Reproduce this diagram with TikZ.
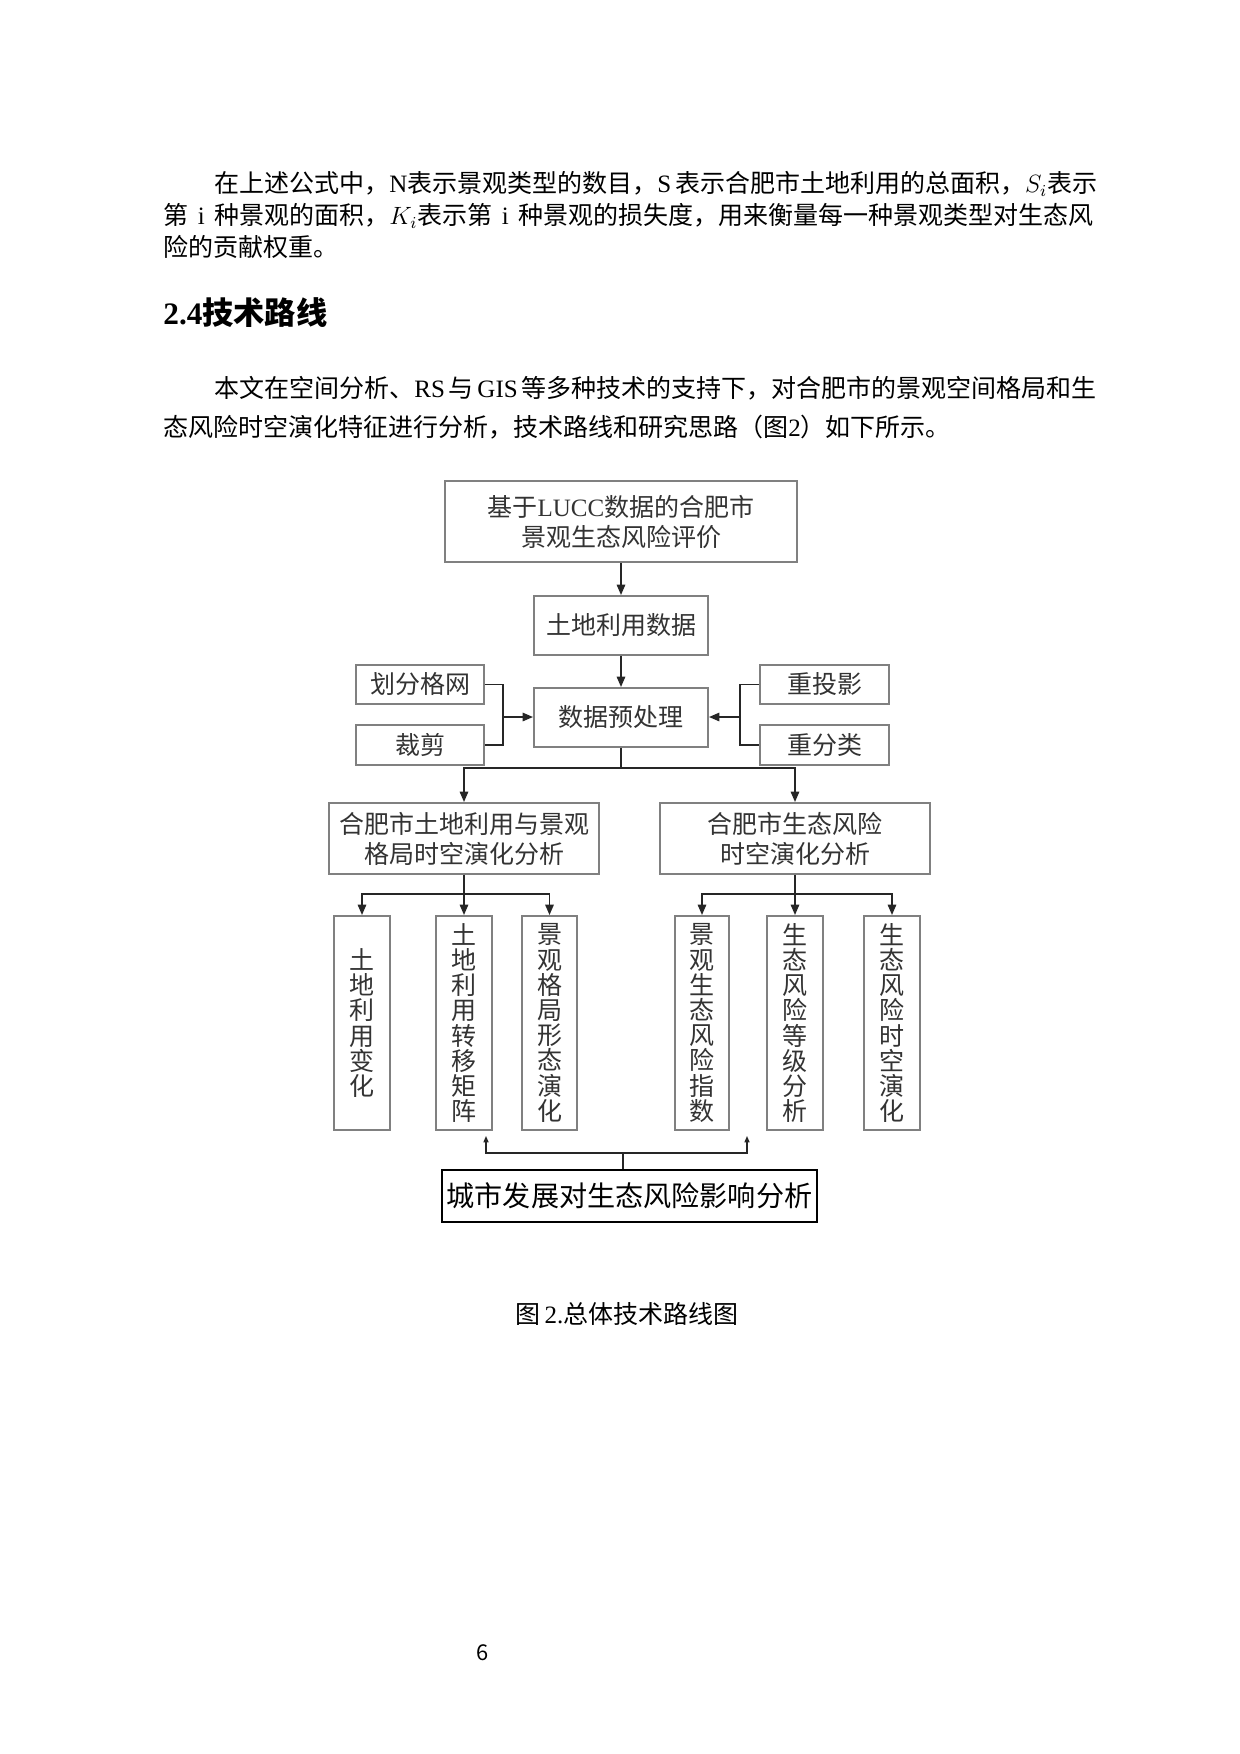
\documentclass[tikz,border=0pt]{standalone}
\usepackage{fontspec}
\setmainfont{Noto Sans CJK SC}
\newfontfamily\lat{Liberation Serif}
\usetikzlibrary{arrows.meta,shadows}
\XeTeXlinebreaklocale "zh"
\XeTeXlinebreakskip=0pt plus 1pt
\begin{document}
\begin{tikzpicture}[x=0.48pt,y=-0.48pt,
  body/.style={anchor=west, inner sep=0pt, font=\fontsize{12}{14}\selectfont, text height=10.5pt, text depth=1.5pt},
  sz/.style 2 args={minimum width={#1*0.48pt}, minimum height={#2*0.48pt}},
  box/.style={draw=black!50, line width=0.9pt, inner sep=0pt, fill=white, text=black!80,
    font=\fontsize{12}{14.4}\selectfont, align=center,
    drop shadow={shadow xshift=0.7pt, shadow yshift=-0.7pt, fill=black!25, opacity=0.7}},
  vbox/.style={box, font=\fontsize{12}{12.1}\selectfont},
  bbox/.style={draw=black, line width=1.3pt, inner sep=0pt, fill=white, text=black,
    font=\fontsize{13.5}{16}\selectfont},
  conn/.style={draw=black!85, line width=0.9pt},
  arr/.style={conn, -{Triangle[length=5pt,width=4pt]}},
  arrs/.style={conn, line width=0.6pt, -{Triangle[length=3pt,width=2.4pt]}}
]
\fill[white] (0,0) rectangle (1240,1754);
\useasboundingbox (0,0) rectangle (1240,1754);

% body text
\node[body] (t1) at (214,183) {\makebox[421.9pt][s]{在上述公式中，{\lat N}表示景观类型的数目，{\lat S} 表示合肥市土地利用的总面积，$S_i$表示}};
\node[body] (t2) at (163,215) {\makebox[446.4pt][s]{第 {\lat i} 种景观的面积，$K_i$表示第 {\lat i} 种景观的损失度，用来衡量每一种景观类型对生态风}};
\node[body] (t3) at (163,247) {险的贡献权重。};
\node[body, font=\fontsize{15}{18}\selectfont\bfseries, text height=13pt, text depth=2pt] (h1) at (163,313) {{\lat 2.4}技术路线};
\node[body] (p1) at (214,388) {\makebox[421.9pt][s]{本文在空间分析、{\lat RS} 与 {\lat GIS} 等多种技术的支持下，对合肥市的景观空间格局和生}};
\node[body] (p2) at (163,427) {态风险时空演化特征进行分析，技术路线和研究思路（图{\lat 2}）如下所示。};

% diagram boxes
\node[box, sz={352}{81}] (T) at (621,521.5) {基于{\lat LUCC}数据的合肥市\\景观生态风险评价};
\node[box, sz={174}{59}] (D) at (621,625.5) {土地利用数据};
\node[box, sz={174}{59}] (P) at (621,717.5) {数据预处理};
\node[box, sz={128}{39}] (G) at (420,684.5) {划分格网};
\node[box, sz={128}{40}] (C) at (420,745) {裁剪};
\node[box, sz={129}{39}] (R1) at (824.5,684.5) {重投影};
\node[box, sz={129}{40}] (R2) at (824.5,745) {重分类};
\node[box, sz={270}{71}] (L) at (464,838.5) {合肥市土地利用与景观\\格局时空演化分析};
\node[box, sz={270}{71}] (M) at (795,838.5) {合肥市生态风险\\时空演化分析};
\node[vbox, sz={56}{214}] (V1) at (362,1023) {土\\地\\利\\用\\变\\化};
\node[vbox, sz={56}{214}] (V2) at (464,1023) {土\\地\\利\\用\\转\\移\\矩\\阵};
\node[vbox, sz={55}{214}] (V3) at (549.5,1023) {景\\观\\格\\局\\形\\态\\演\\化};
\node[vbox, sz={54}{214}] (V4) at (702,1023) {景\\观\\生\\态\\风\\险\\指\\数};
\node[vbox, sz={56}{214}] (V5) at (795,1023) {生\\态\\风\\险\\等\\级\\分\\析};
\node[vbox, sz={56}{214}] (V6) at (892,1023) {生\\态\\风\\险\\时\\空\\演\\化};
\node[bbox, sz={375}{52}] (B) at (629.5,1196) {城市发展对生态风险影响分析};

% connectors
\draw[arr] (T.south) -- (D.north);
\draw[arr] (D.south) -- (P.north);
\coordinate (lb) at (503,717);
\coordinate (rb) at (740,717);
\draw[conn] (G.east) -| (lb);
\draw[conn] (C.east) -| (lb);
\draw[arr] (lb) -- (lb -| P.west);
\draw[conn] (R1.west) -| (rb);
\draw[conn] (R2.west) -| (rb);
\draw[arr] (rb) -- (rb -| P.east);
\coordinate (s1) at (621,768);
\draw[conn] (P.south) -- (s1);
\draw[arr] (s1) -| (L.north);
\draw[arr] (s1) -| (M.north);
\coordinate (s2) at (464,894);
\draw[conn] (L.south) -- (s2);
\draw[arr] (s2) -| (V1.north);
\draw[arr] (s2) -- (V2.north);
\draw[arr] (s2) -| (V3.north);
\coordinate (s3) at (795,894);
\draw[conn] (M.south) -- (s3);
\draw[arr] (s3) -| (V4.north);
\draw[arr] (s3) -- (V5.north);
\draw[arr] (s3) -| (V6.north);
\coordinate (s4) at (623,1153);
\coordinate (e1) at (486,1136);
\coordinate (e2) at (747,1136);
\draw[conn, line width=0.6pt] (s4 |- B.north) -- (s4);
\draw[arrs] (s4) -| (e1);
\draw[arrs] (s4) -| (e2);

% caption and page number
\node[inner sep=0pt, font=\fontsize{12}{14}\selectfont] (cap) at (627,1314) {图{\lat\,2.}总体技术路线图};
\node[inner sep=0pt, font=\fontsize{10.5}{12}\selectfont] (pg) at (483,1653) {6};
\end{tikzpicture}
\end{document}
